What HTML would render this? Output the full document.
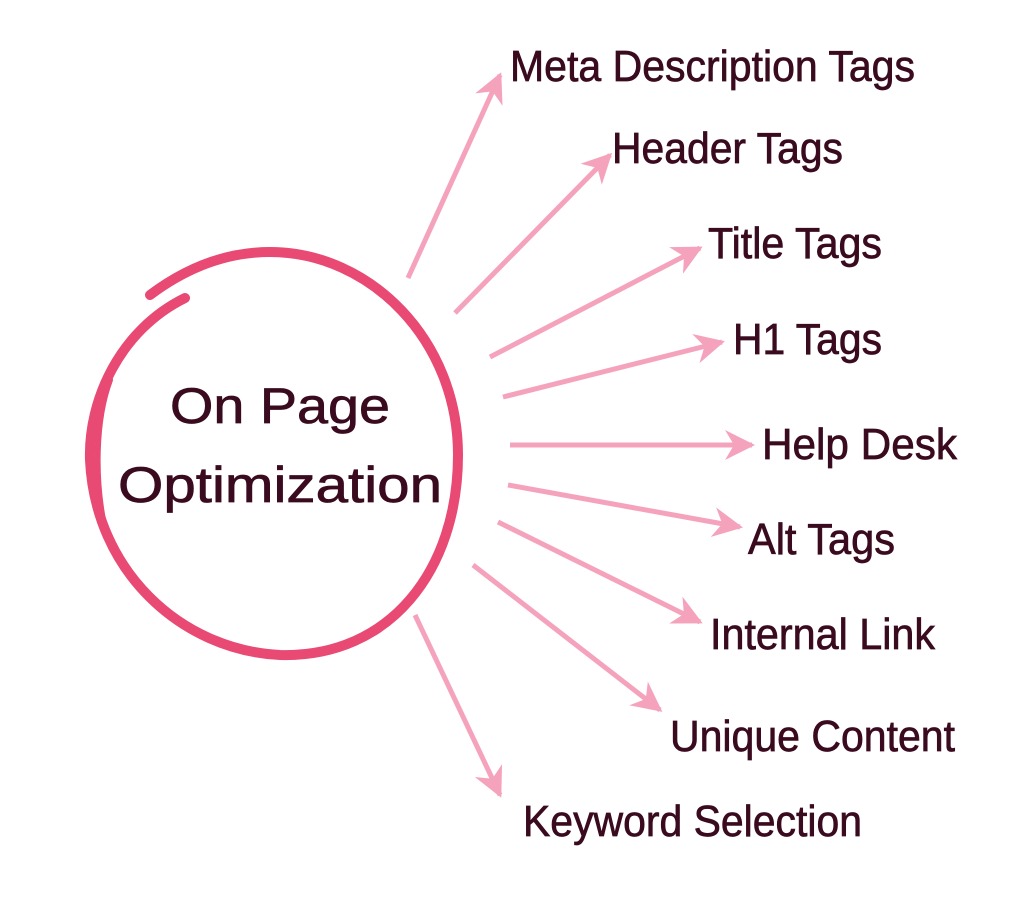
<!DOCTYPE html>
<html><head><meta charset="utf-8"><style>
html,body{margin:0;padding:0;background:#fff;}
svg{display:block;}
text{font-family:"Liberation Sans",sans-serif;fill:#3a0a1e;stroke:#3a0a1e;stroke-width:0.7;}
</style></head><body>
<svg width="1022" height="924" viewBox="0 0 1022 924" xmlns="http://www.w3.org/2000/svg">
<defs>
<marker id="ah" viewBox="0 0 10 10" refX="9" refY="5" markerWidth="6" markerHeight="6" markerUnits="strokeWidth" orient="auto">
<path d="M0,0 L10,5 L0,10 L3,5 z" fill="#f5a3bd"/>
</marker>
</defs>
<path d="M185,298 C120,330 88,400 90,460 C95,570 180,650 280,655 C390,658 458,570 458,455 C458,340 370,252 270,252 C230,252 190,265 150,295" fill="none" stroke="#e84a73" stroke-width="10" stroke-linecap="round"/>
<path d="M110,380 C95,420 94,480 105,530" fill="none" stroke="#e84a73" stroke-width="6" stroke-linecap="round"/>
<text x="170" y="423" font-size="50" textLength="220" lengthAdjust="spacingAndGlyphs">On Page</text>
<text x="118" y="502" font-size="50" textLength="324" lengthAdjust="spacingAndGlyphs">Optimization</text>
<g stroke="#f5a3bd" stroke-width="5" fill="none" marker-end="url(#ah)">
<line x1="408" y1="278" x2="500" y2="75"/>
<line x1="455" y1="313" x2="610" y2="155"/>
<line x1="490" y1="357" x2="700" y2="248"/>
<line x1="503" y1="397" x2="722" y2="342"/>
<line x1="510" y1="445" x2="752" y2="445"/>
<line x1="508" y1="485" x2="740" y2="527"/>
<line x1="498" y1="522" x2="700" y2="622"/>
<line x1="473" y1="565" x2="660" y2="710"/>
<line x1="415" y1="615" x2="500" y2="795"/>
</g>
<g font-size="44">
<text x="510" y="81" textLength="405" lengthAdjust="spacingAndGlyphs">Meta Description Tags</text>
<text x="612" y="163" textLength="231" lengthAdjust="spacingAndGlyphs">Header Tags</text>
<text x="708" y="258" textLength="174" lengthAdjust="spacingAndGlyphs">Title Tags</text>
<text x="733" y="354" textLength="149" lengthAdjust="spacingAndGlyphs">H1 Tags</text>
<text x="762" y="459" textLength="195" lengthAdjust="spacingAndGlyphs">Help Desk</text>
<text x="748" y="554" textLength="147" lengthAdjust="spacingAndGlyphs">Alt Tags</text>
<text x="710" y="649" textLength="225" lengthAdjust="spacingAndGlyphs">Internal Link</text>
<text x="670" y="751" textLength="285" lengthAdjust="spacingAndGlyphs">Unique Content</text>
<text x="523" y="836" textLength="339" lengthAdjust="spacingAndGlyphs">Keyword Selection</text>
</g>
</svg>
</body></html>
